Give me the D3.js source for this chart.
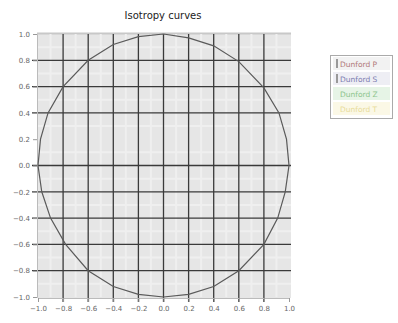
<!DOCTYPE html>
<html><head><meta charset="utf-8">
<script src="https://cdn.jsdelivr.net/npm/d3@7"></script>
<style>body{margin:0;background:#fff}svg{display:block}</style>
</head><body>
<script>
const xTicks = [-1.0,-0.8,-0.6,-0.4,-0.2,0.0,0.2,0.4,0.6,0.8,1.0];
const yTicks = [-1.0,-0.8,-0.6,-0.4,-0.2,0.0,0.2,0.4,0.6,0.8,1.0];
const xGridMajor = [-0.8,-0.6,-0.4,-0.2,0.0,0.2,0.4,0.6,0.8];
const yGridMajor = [-0.8,-0.6,-0.4,-0.2,0.0,0.4,0.6,0.8];
const curveX = [0,0.2,0.4,0.6,0.8,0.92,0.98,1.0,0.97,0.91,0.8,0.6,0.4,0.2,0,-0.2,-0.4,-0.6,-0.78,-0.9,-0.97,-1.0,-0.98,-0.92,-0.8,-0.6,-0.4,-0.2,0];
const curveY = [1.0,0.97,0.91,0.79,0.59,0.4,0.2,0.0,-0.2,-0.4,-0.6,-0.8,-0.92,-0.98,-1.0,-0.98,-0.92,-0.8,-0.6,-0.4,-0.2,0.0,0.2,0.4,0.6,0.8,0.92,0.98,1.0];
const legendLabels = ["Dunford P","Dunford S","Dunford Z","Dunford T"];
const legendColors = ["#b07878","#7c7cb0","#8cc48c","#e8dc9a"];
const legendBg = ["#f2f2f2","#eeeef4","#e6f4e6","#fbf8e6"];

const W=398,H=323;
const svg=d3.select("body").append("svg").attr("width",W).attr("height",H);
const x=d3.scaleLinear().domain([-1,1]).range([38,289]);
const y=d3.scaleLinear().domain([-1,1]).range([297,34]);

svg.append("text").attr("x",163).attr("y",19).attr("text-anchor","middle")
  .attr("font-family","DejaVu Sans, sans-serif").attr("font-size",10).attr("fill","#222").text("Isotropy curves");

svg.append("rect").attr("x",37).attr("y",33).attr("width",254).attr("height",265).attr("fill","#e6e6e6");
svg.append("line").attr("x1",37).attr("x2",291).attr("y1",33.5).attr("y2",33.5).attr("stroke","#c8c8c8").attr("stroke-width",2);

// minor grid
const minor=d3.range(-0.9,1.0,0.2);
svg.append("g").selectAll("line").data(minor).join("line")
  .attr("x1",d=>x(d)).attr("x2",d=>x(d)).attr("y1",34).attr("y2",297).attr("stroke","#efefef").attr("stroke-width",2);
svg.append("g").selectAll("line").data(minor).join("line")
  .attr("y1",d=>y(d)).attr("y2",d=>y(d)).attr("x1",37).attr("x2",291).attr("stroke","#efefef").attr("stroke-width",2);

// major grid
svg.append("g").selectAll("line").data(xGridMajor).join("line")
  .attr("x1",d=>x(d)).attr("x2",d=>x(d)).attr("y1",34).attr("y2",302).attr("stroke","#3a3a3a").attr("stroke-width",1.3);
svg.append("g").selectAll("line").data(yGridMajor).join("line")
  .attr("y1",d=>y(d)).attr("y2",d=>y(d)).attr("x1",32).attr("x2",291).attr("stroke","#3a3a3a").attr("stroke-width",1.3);

// axes
const xa=svg.append("g").attr("transform","translate(0,298)").call(d3.axisBottom(x).tickValues(xTicks).tickSize(4).tickFormat(d3.format(".1f")));
const ya=svg.append("g").attr("transform","translate(37,0)").call(d3.axisLeft(y).tickValues(yTicks).tickSize(4).tickFormat(d3.format(".1f")));
[xa,ya].forEach(a=>{a.select(".domain").attr("stroke","#bbb");a.selectAll(".tick line").attr("stroke","#999");
  a.selectAll("text").attr("font-family","DejaVu Sans, sans-serif").attr("font-size",7).attr("fill","#666");});
xa.selectAll("text").attr("dy","0.9em");

// curve
const pts=curveX.map((v,i)=>[x(v),y(curveY[i])]);
svg.append("path").attr("d",d3.line()(pts)).attr("fill","none").attr("stroke","#5a5a5a").attr("stroke-width",1.2);

// legend
const lg=svg.append("g");
lg.append("rect").attr("x",330.5).attr("y",55.5).attr("width",62).attr("height",63).attr("fill","#fff").attr("stroke","#aaa");
legendLabels.forEach((t,i)=>{
  lg.append("rect").attr("x",333).attr("y",57+i*15).attr("width",57).attr("height",13).attr("fill",legendBg[i]);
  lg.append("rect").attr("x",336).attr("y",59+i*15).attr("width",2).attr("height",9).attr("fill",i<2?"#999":"none");
  lg.append("text").attr("x",340).attr("y",66.5+i*15).attr("font-family","DejaVu Sans, sans-serif").attr("font-size",7.5)
    .attr("fill",legendColors[i]).text(t);
});
</script>
</body></html>
